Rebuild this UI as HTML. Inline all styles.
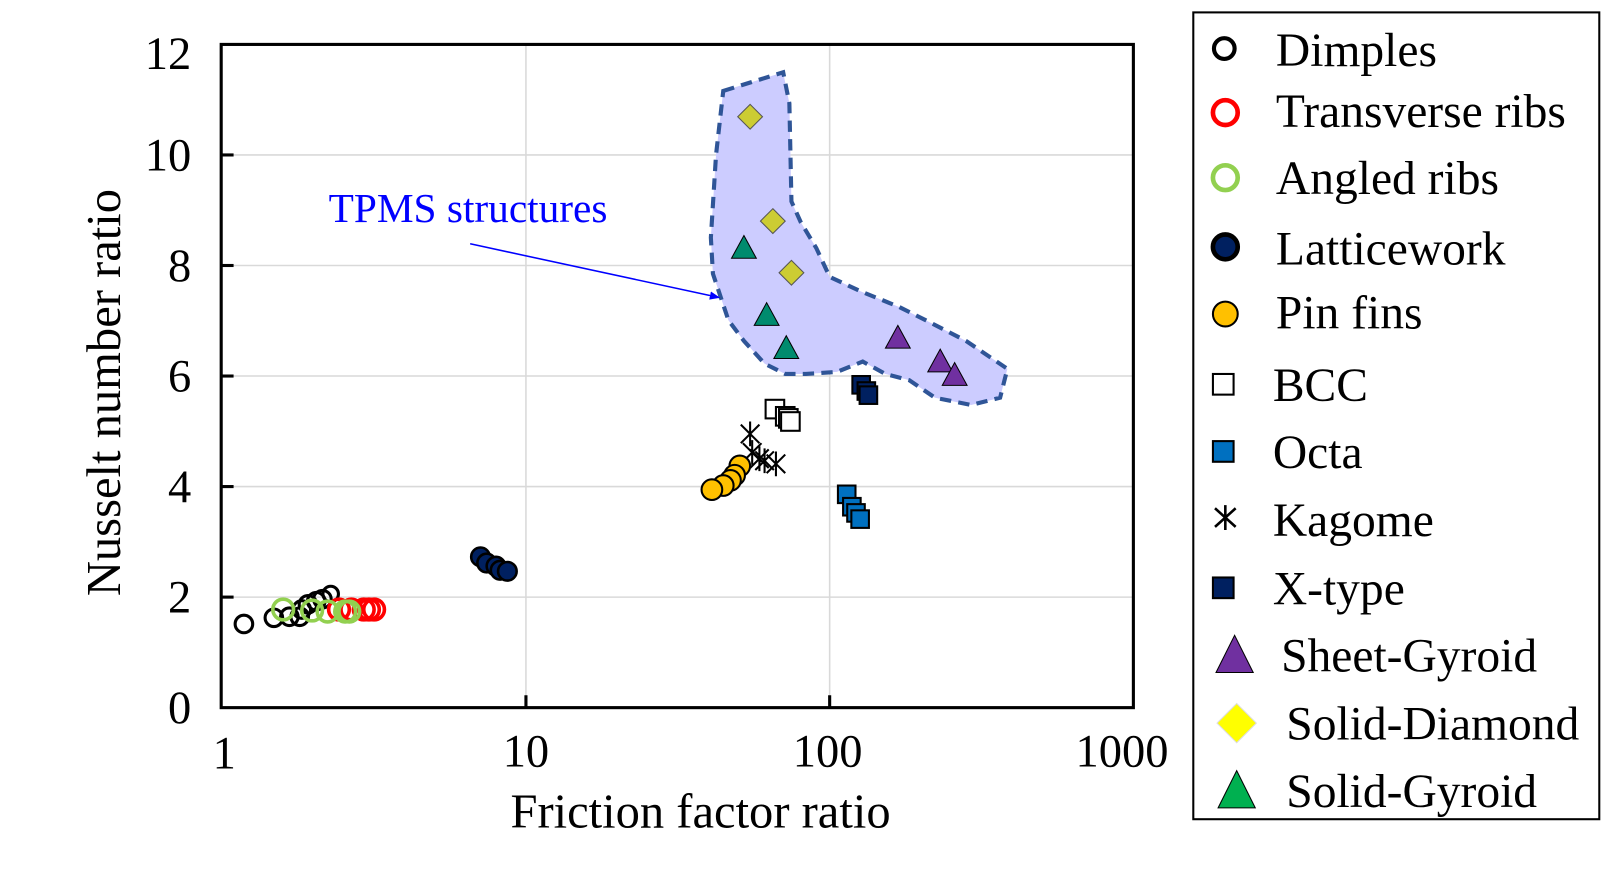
<!DOCTYPE html>
<html><head><meta charset="utf-8"><style>body{margin:0;background:#fff}svg{display:block}text{font-family:"Liberation Serif",serif}</style></head><body>
<svg width="1618" height="875" viewBox="0 0 1566 847">
<defs>
<marker id="ah" markerWidth="10" markerHeight="8" refX="9" refY="4" orient="auto" markerUnits="userSpaceOnUse"><path d="M0,0 L10,4 L0,8 Z" fill="#0000ff"/></marker>
</defs>
<g stroke="#d9d9d9" stroke-width="1.5">
<line x1="509" y1="43" x2="509" y2="685"/><line x1="803" y1="43" x2="803" y2="685"/>
<line x1="214" y1="578" x2="1097" y2="578"/><line x1="214" y1="471" x2="1097" y2="471"/>
<line x1="214" y1="364" x2="1097" y2="364"/><line x1="214" y1="257" x2="1097" y2="257"/>
<line x1="214" y1="150" x2="1097" y2="150"/>
</g>
<polygon points="700,88 758,70 764,100 766,195 775,215 790,240 803,268 833,282 870,297 900,312 935,330 975,357 968,385 940,392 905,385 880,368 857,362 835,350 810,360 780,362 760,362 740,352 720,330 705,310 690,265 688,230 693,150" fill="#ccccff" stroke="#2f5597" stroke-width="4" stroke-dasharray="11,7"/>
<rect x="214" y="43" width="883" height="642" fill="none" stroke="#000" stroke-width="3"/>
<g stroke="#000" stroke-width="3">
<line x1="214" y1="578" x2="226" y2="578"/><line x1="214" y1="471" x2="226" y2="471"/><line x1="214" y1="364" x2="226" y2="364"/><line x1="214" y1="257" x2="226" y2="257"/><line x1="214" y1="150" x2="226" y2="150"/>
<line x1="509" y1="685" x2="509" y2="673"/><line x1="803" y1="685" x2="803" y2="673"/>
</g>
<g font-size="45" text-anchor="end">
<text x="185" y="700">0</text><text x="185" y="593">2</text><text x="185" y="486">4</text><text x="185" y="379">6</text><text x="185" y="272">8</text><text x="185" y="165">10</text><text x="185" y="67">12</text>
</g>
<g font-size="45" text-anchor="middle">
<text x="217" y="744">1</text><text x="509" y="742">10</text><text x="801" y="742">100</text><text x="1086" y="742">1000</text>
</g>
<text x="678" y="801" font-size="47" text-anchor="middle">Friction factor ratio</text>
<text transform="translate(116,380) rotate(-90)" font-size="47" text-anchor="middle">Nusselt number ratio</text>
<text x="318" y="215" font-size="40" fill="#0000ff">TPMS structures</text>
<line x1="455" y1="236" x2="696" y2="288" stroke="#0000ff" stroke-width="1.5" marker-end="url(#ah)"/>
<g fill="none" stroke="#000" stroke-width="3">
<circle cx="236" cy="604" r="8.5"/><circle cx="265" cy="598" r="8.5"/><circle cx="290" cy="597" r="8.5"/><circle cx="280" cy="597" r="8.5"/><circle cx="292" cy="590" r="8.5"/><circle cx="298" cy="585" r="8.5"/><circle cx="306" cy="582" r="8.5"/><circle cx="312" cy="580" r="8.5"/><circle cx="320" cy="575" r="7.5"/>
</g>
<g fill="none" stroke="#ff0000" stroke-width="3.5">
<circle cx="328" cy="590" r="10"/><circle cx="340" cy="590" r="10"/><circle cx="352" cy="590" r="10"/><circle cx="357" cy="590" r="10"/><circle cx="362" cy="590" r="10"/>
</g>
<g fill="none" stroke="#92d050" stroke-width="3.5">
<circle cx="274" cy="590" r="10"/><circle cx="302" cy="591" r="10"/><circle cx="317" cy="592" r="10"/><circle cx="334" cy="592" r="10"/><circle cx="338" cy="592" r="10"/>
</g>
<g fill="#002060" stroke="#000" stroke-width="2.5">
<circle cx="465" cy="539" r="9"/><circle cx="471" cy="545" r="9"/><circle cx="480" cy="548" r="9"/><circle cx="484" cy="552" r="9"/><circle cx="491" cy="553" r="9"/>
</g>
<g stroke="#000" stroke-width="2">
<path d="M726,408v24M717,411l18,18M735,411l-18,18"/><path d="M728,426v24M719,429l18,18M737,429l-18,18"/><path d="M735,432v24M726,435l18,18M744,435l-18,18"/><path d="M740,434v24M731,437l18,18M749,437l-18,18"/><path d="M751,437v24M742,440l18,18M760,440l-18,18"/>
</g>
<g fill="#ffc000" stroke="#000" stroke-width="2">
<circle cx="716" cy="451" r="10"/><circle cx="711" cy="460" r="10"/><circle cx="707" cy="465" r="10"/><circle cx="700" cy="470" r="10"/><circle cx="689" cy="474" r="10"/>
</g>
<g fill="#fff" stroke="#000" stroke-width="2">
<rect x="741" y="387" width="18" height="18"/><rect x="751" y="394" width="18" height="18"/><rect x="754" y="396" width="18" height="18"/><rect x="756" y="399" width="18" height="18"/>
</g>
<g fill="#0070c0" stroke="#000" stroke-width="2">
<rect x="811" y="470" width="17" height="17"/><rect x="816" y="482" width="17" height="17"/><rect x="820" y="488" width="17" height="17"/><rect x="824" y="494" width="17" height="17"/>
</g>
<g fill="#002060" stroke="#000" stroke-width="2">
<rect x="825" y="364" width="17" height="17"/><rect x="830" y="370" width="17" height="17"/><rect x="832" y="374" width="17" height="17"/>
</g>
<g fill="#7030a0" stroke="#000" stroke-width="1">
<path d="M869,315l12,22h-24z"/><path d="M910,338l12,22h-24z"/><path d="M924,351l12,22h-24z"/>
</g>
<g fill="#cccc33" stroke="#555" stroke-width="1">
<path d="M726,101l12,12l-12,12l-12-12z"/><path d="M748,202l12,12l-12,12l-12-12z"/><path d="M766,252l12,12l-12,12l-12-12z"/>
</g>
<g fill="#008b6e" stroke="#000" stroke-width="1">
<path d="M720,228l12,22h-24z"/><path d="M742,293l12,22h-24z"/><path d="M761,325l12,22h-24z"/>
</g>
<rect x="1155" y="12" width="393" height="781" fill="#fff" stroke="#000" stroke-width="2"/>
<g font-size="46">
<text x="1235" y="64">Dimples</text><text x="1235" y="123">Transverse ribs</text><text x="1235" y="188">Angled ribs</text><text x="1235" y="256">Latticework</text><text x="1235" y="318">Pin fins</text><text x="1232" y="388">BCC</text><text x="1232" y="453">Octa</text><text x="1232" y="519">Kagome</text><text x="1232" y="585">X-type</text><text x="1240" y="650">Sheet-Gyroid</text><text x="1245" y="716">Solid-Diamond</text><text x="1245" y="781">Solid-Gyroid</text>
</g>
<circle cx="1185" cy="47" r="10" fill="none" stroke="#000" stroke-width="4"/>
<circle cx="1186" cy="109" r="12" fill="none" stroke="#ff0000" stroke-width="4.5"/>
<circle cx="1186" cy="172" r="12" fill="none" stroke="#92d050" stroke-width="4.5"/>
<circle cx="1186" cy="239" r="12" fill="#002060" stroke="#000" stroke-width="4.5"/>
<circle cx="1186" cy="304" r="12" fill="#ffc000" stroke="#000" stroke-width="2"/>
<rect x="1174" y="362" width="20" height="20" fill="#fff" stroke="#000" stroke-width="2"/>
<rect x="1174" y="427" width="20" height="20" fill="#0070c0" stroke="#000" stroke-width="2"/>
<path d="M1186,489v24M1176,492l20,18M1196,492l-20,18" stroke="#000" stroke-width="2.5"/>
<rect x="1174" y="559" width="20" height="20" fill="#002060" stroke="#000" stroke-width="2"/>
<path d="M1195,615l18,36h-36z" fill="#7030a0" stroke="#000" stroke-width="1"/>
<path d="M1197,681l19,19l-19,19l-19-19z" fill="#ffff00" stroke="#ddd" stroke-width="1"/>
<path d="M1197,746l18,36h-36z" fill="#00b050" stroke="#000" stroke-width="1"/>
</svg>
</body></html>
